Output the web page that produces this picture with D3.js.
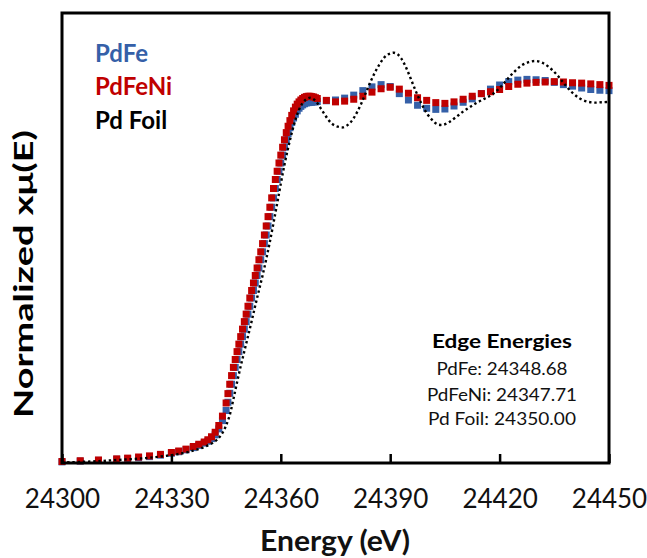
<!DOCTYPE html>
<html>
<head>
<meta charset="utf-8">
<script src="https://cdn.jsdelivr.net/npm/d3@7"></script>
<style>
  html, body { margin: 0; padding: 0; background: #fff; }
  svg { display: block; }
  text { font-family: Lato, "Open Sans", sans-serif; }
</style>
</head>
<body>
<svg id="chart" width="647" height="558"></svg>
<script>
// ---------------- DATA ----------------
const sampleEnergy = [
  24300, 24305, 24310, 24315, 24318, 24321, 24324, 24327, 24330, 24332, 24334, 24336, 24337.5, 24339, 24340, 24341, 24342, 24343, 24344, 24345, 24345.5,
  24346, 24346.5, 24347, 24347.5, 24348, 24348.5, 24349, 24349.5, 24350, 24350.5, 24351, 24351.5, 24352, 24352.5, 24353, 24353.5, 24354, 24354.5,
  24355, 24355.5, 24356, 24356.5, 24357, 24357.5, 24358, 24358.5, 24359, 24359.5, 24360, 24360.5, 24361, 24361.5, 24362, 24362.5, 24363, 24363.5,
  24364, 24364.5, 24365, 24365.5, 24366, 24366.5, 24367, 24367.5, 24368, 24368.5, 24369, 24369.5, 24370,
  24372.5, 24375, 24377.5, 24380, 24382.5, 24385, 24387.5, 24390, 24392.5, 24395, 24397.5, 24400, 24402.5, 24405, 24407.5, 24410,
  24412.5, 24415, 24417.5, 24420, 24422.5, 24425, 24427.5, 24430, 24432.5, 24435, 24437.5, 24440, 24442.5, 24445, 24447.5, 24450
];

const pdFe = [
  0.003, 0.005, 0.007, 0.010, 0.012, 0.014, 0.017, 0.021, 0.026, 0.030, 0.035, 0.041, 0.047, 0.053, 0.058, 0.065, 0.075, 0.091, 0.113, 0.140, 0.162,
  0.186, 0.210, 0.233, 0.255, 0.276, 0.297, 0.317, 0.337, 0.357, 0.377, 0.397, 0.418, 0.440, 0.460, 0.480, 0.500, 0.520, 0.542,
  0.563, 0.585, 0.608, 0.632, 0.657, 0.682, 0.707, 0.732, 0.756, 0.778, 0.800, 0.821, 0.842, 0.861, 0.878, 0.894, 0.908, 0.920,
  0.930, 0.939, 0.946, 0.951, 0.955, 0.958, 0.960, 0.961, 0.962, 0.962, 0.963, 0.963, 0.964,
  0.966, 0.968, 0.973, 0.981, 0.993, 1.003, 1.009, 1.004, 0.985, 0.968, 0.954, 0.946, 0.943, 0.944, 0.952, 0.962,
  0.971, 0.985, 0.997, 1.008, 1.017, 1.021, 1.023, 1.022, 1.020, 1.015, 1.009, 1.005, 1.000, 0.996, 0.994, 0.993
];

const pdFeNi = [
  0.004, 0.006, 0.008, 0.011, 0.013, 0.016, 0.019, 0.023, 0.028, 0.032, 0.037, 0.044, 0.050, 0.056, 0.062, 0.070, 0.082, 0.100, 0.125, 0.160, 0.185,
  0.210, 0.233, 0.255, 0.276, 0.297, 0.317, 0.337, 0.357, 0.377, 0.397, 0.418, 0.440, 0.460, 0.480, 0.500, 0.520, 0.542, 0.563,
  0.585, 0.608, 0.632, 0.657, 0.682, 0.707, 0.732, 0.756, 0.778, 0.800, 0.821, 0.842, 0.862, 0.881, 0.898, 0.913, 0.927, 0.939,
  0.949, 0.957, 0.963, 0.968, 0.972, 0.975, 0.977, 0.978, 0.978, 0.977, 0.976, 0.974, 0.972,
  0.967, 0.963, 0.965, 0.970, 0.978, 0.989, 0.998, 1.002, 0.997, 0.986, 0.974, 0.967, 0.961, 0.959, 0.963, 0.970,
  0.978, 0.985, 0.990, 0.996, 1.004, 1.010, 1.013, 1.015, 1.016, 1.017, 1.016, 1.014, 1.013, 1.011, 1.009, 1.007
];

const foilEnergy = [
  24300, 24305, 24310, 24315, 24320, 24325, 24330, 24333, 24336, 24338, 24340, 24342, 24343, 24344, 24345,
  24346, 24347, 24348, 24349, 24350, 24351, 24352, 24353, 24354, 24355, 24356, 24357, 24358, 24359, 24360,
  24361, 24362, 24363, 24364, 24365, 24366, 24367, 24368, 24369, 24370, 24371, 24372, 24373, 24374, 24375,
  24376, 24377, 24378, 24379, 24380, 24381, 24382, 24383, 24384, 24385, 24386, 24387, 24388, 24389, 24390,
  24391, 24392, 24393, 24394, 24395, 24396, 24397, 24398, 24399, 24400, 24401.5, 24403, 24404.5, 24406, 24408,
  24410, 24412, 24414, 24416, 24418, 24420, 24422, 24424, 24426, 24428, 24430, 24432, 24434, 24436, 24438,
  24440, 24442, 24444, 24446, 24448, 24450
];

const pdFoil = [
  0.001, 0.003, 0.005, 0.008, 0.011, 0.015, 0.021, 0.026, 0.033, 0.039, 0.047, 0.058, 0.067, 0.080, 0.100,
  0.128, 0.170, 0.215, 0.258, 0.298, 0.338, 0.378, 0.420, 0.460, 0.500, 0.543, 0.590, 0.640, 0.692, 0.745,
  0.795, 0.840, 0.880, 0.915, 0.942, 0.960, 0.970, 0.974, 0.970, 0.960, 0.945, 0.930, 0.916, 0.905, 0.899,
  0.896, 0.895, 0.899, 0.907, 0.920, 0.937, 0.957, 0.980, 1.003, 1.025, 1.045, 1.062, 1.077, 1.087, 1.092,
  1.094, 1.090, 1.079, 1.062, 1.040, 1.016, 0.992, 0.970, 0.950, 0.933, 0.915, 0.903, 0.902, 0.908, 0.922,
  0.937, 0.950, 0.962, 0.972, 0.983, 1.000, 1.022, 1.043, 1.060, 1.069, 1.072, 1.066, 1.052, 1.032, 1.008,
  0.987, 0.972, 0.964, 0.961, 0.962, 0.963
];

const xTicks = [24300, 24330, 24360, 24390, 24420, 24450];
const legendLabels = ["PdFe", "PdFeNi", "Pd Foil"];
const edgeTitle = "Edge Energies";
const edgeLines = ["PdFe: 24348.68", "PdFeNi: 24347.71", "Pd Foil: 24350.00"];
const xTitle = "Energy (eV)";
const yTitle = "Normalized xμ(E)";

// ---------------- CHART ----------------
const svg = d3.select("#chart");
const plotL = 62, plotR = 609, plotT = 13, plotB = 463;
const blue = "#3560a8", red = "#c00000";

const x = d3.scaleLinear().domain([24300, 24450]).range([plotL, plotR]);
const y = d3.scaleLinear().domain([0, 1.2]).range([plotB, plotT]);

// series
function drawMarkers(vals, color) {
  const s = 7;
  svg.append("g").selectAll("rect")
    .data(sampleEnergy.map((e, i) => [e, vals[i]]))
    .join("rect")
    .attr("x", d => x(d[0]) - s / 2)
    .attr("y", d => y(d[1]) - s / 2)
    .attr("width", s).attr("height", s)
    .attr("fill", color);
}
drawMarkers(pdFe, blue);
drawMarkers(pdFeNi, red);

const foilLine = d3.line()
  .x((d, i) => x(foilEnergy[i]))
  .y(d => y(d))
  .curve(d3.curveCatmullRom);
svg.append("path")
  .attr("d", foilLine(pdFoil))
  .attr("fill", "none")
  .attr("stroke", "#000")
  .attr("stroke-width", 2.4)
  .attr("stroke-dasharray", "2.4 2.8");

// frame
svg.append("rect")
  .attr("x", plotL).attr("y", plotT)
  .attr("width", plotR - plotL).attr("height", plotB - plotT)
  .attr("fill", "none").attr("stroke", "#000").attr("stroke-width", 3);

// x axis (ticks inside)
const xAxis = d3.axisBottom(x).tickValues(xTicks).tickSize(-9).tickPadding(0).tickFormat(d3.format("d"));
const gx = svg.append("g").attr("transform", `translate(0,${plotB})`).call(xAxis);
gx.select(".domain").remove();
gx.selectAll(".tick line").attr("stroke", "#000").attr("stroke-width", 2.5);
gx.selectAll(".tick text")
  .attr("y", 45)
  .attr("dy", null)
  .attr("fill", "#111")
  .style("font-size", "26px")
  .style("font-family", "Lato, sans-serif");

// axis titles
svg.append("text")
  .attr("x", 335).attr("y", 551)
  .attr("text-anchor", "middle")
  .attr("textLength", 150).attr("lengthAdjust", "spacingAndGlyphs")
  .style("font-size", "28px").style("font-weight", "bold")
  .attr("fill", "#111")
  .text(xTitle);

svg.append("text")
  .attr("transform", "translate(33,274) rotate(-90)")
  .attr("text-anchor", "middle")
  .attr("textLength", 288).attr("lengthAdjust", "spacingAndGlyphs")
  .style("font-size", "27px").style("font-weight", "bold")
  .attr("fill", "#000")
  .text(yTitle);

// legend
const legendColors = [blue, red, "#000"];
const legendY = [62, 95, 129];
legendLabels.forEach((t, i) => {
  svg.append("text")
    .attr("x", 95).attr("y", legendY[i])
    .style("font-size", "24px").style("font-weight", "bold")
    .attr("fill", legendColors[i])
    .text(t);
});

// edge energies annotation
svg.append("text")
  .attr("x", 502).attr("y", 348)
  .attr("text-anchor", "middle")
  .attr("textLength", 140).attr("lengthAdjust", "spacingAndGlyphs")
  .style("font-size", "19px").style("font-weight", "bold")
  .attr("fill", "#000")
  .text(edgeTitle);
const edgeY = [375, 401, 425];
const edgeW = [131, 150, 148];
edgeLines.forEach((t, i) => {
  svg.append("text")
    .attr("x", 502).attr("y", edgeY[i])
    .attr("text-anchor", "middle")
    .attr("textLength", edgeW[i]).attr("lengthAdjust", "spacingAndGlyphs")
    .style("font-size", "17px")
    .attr("fill", "#111")
    .text(t);
});
</script>
</body>
</html>
